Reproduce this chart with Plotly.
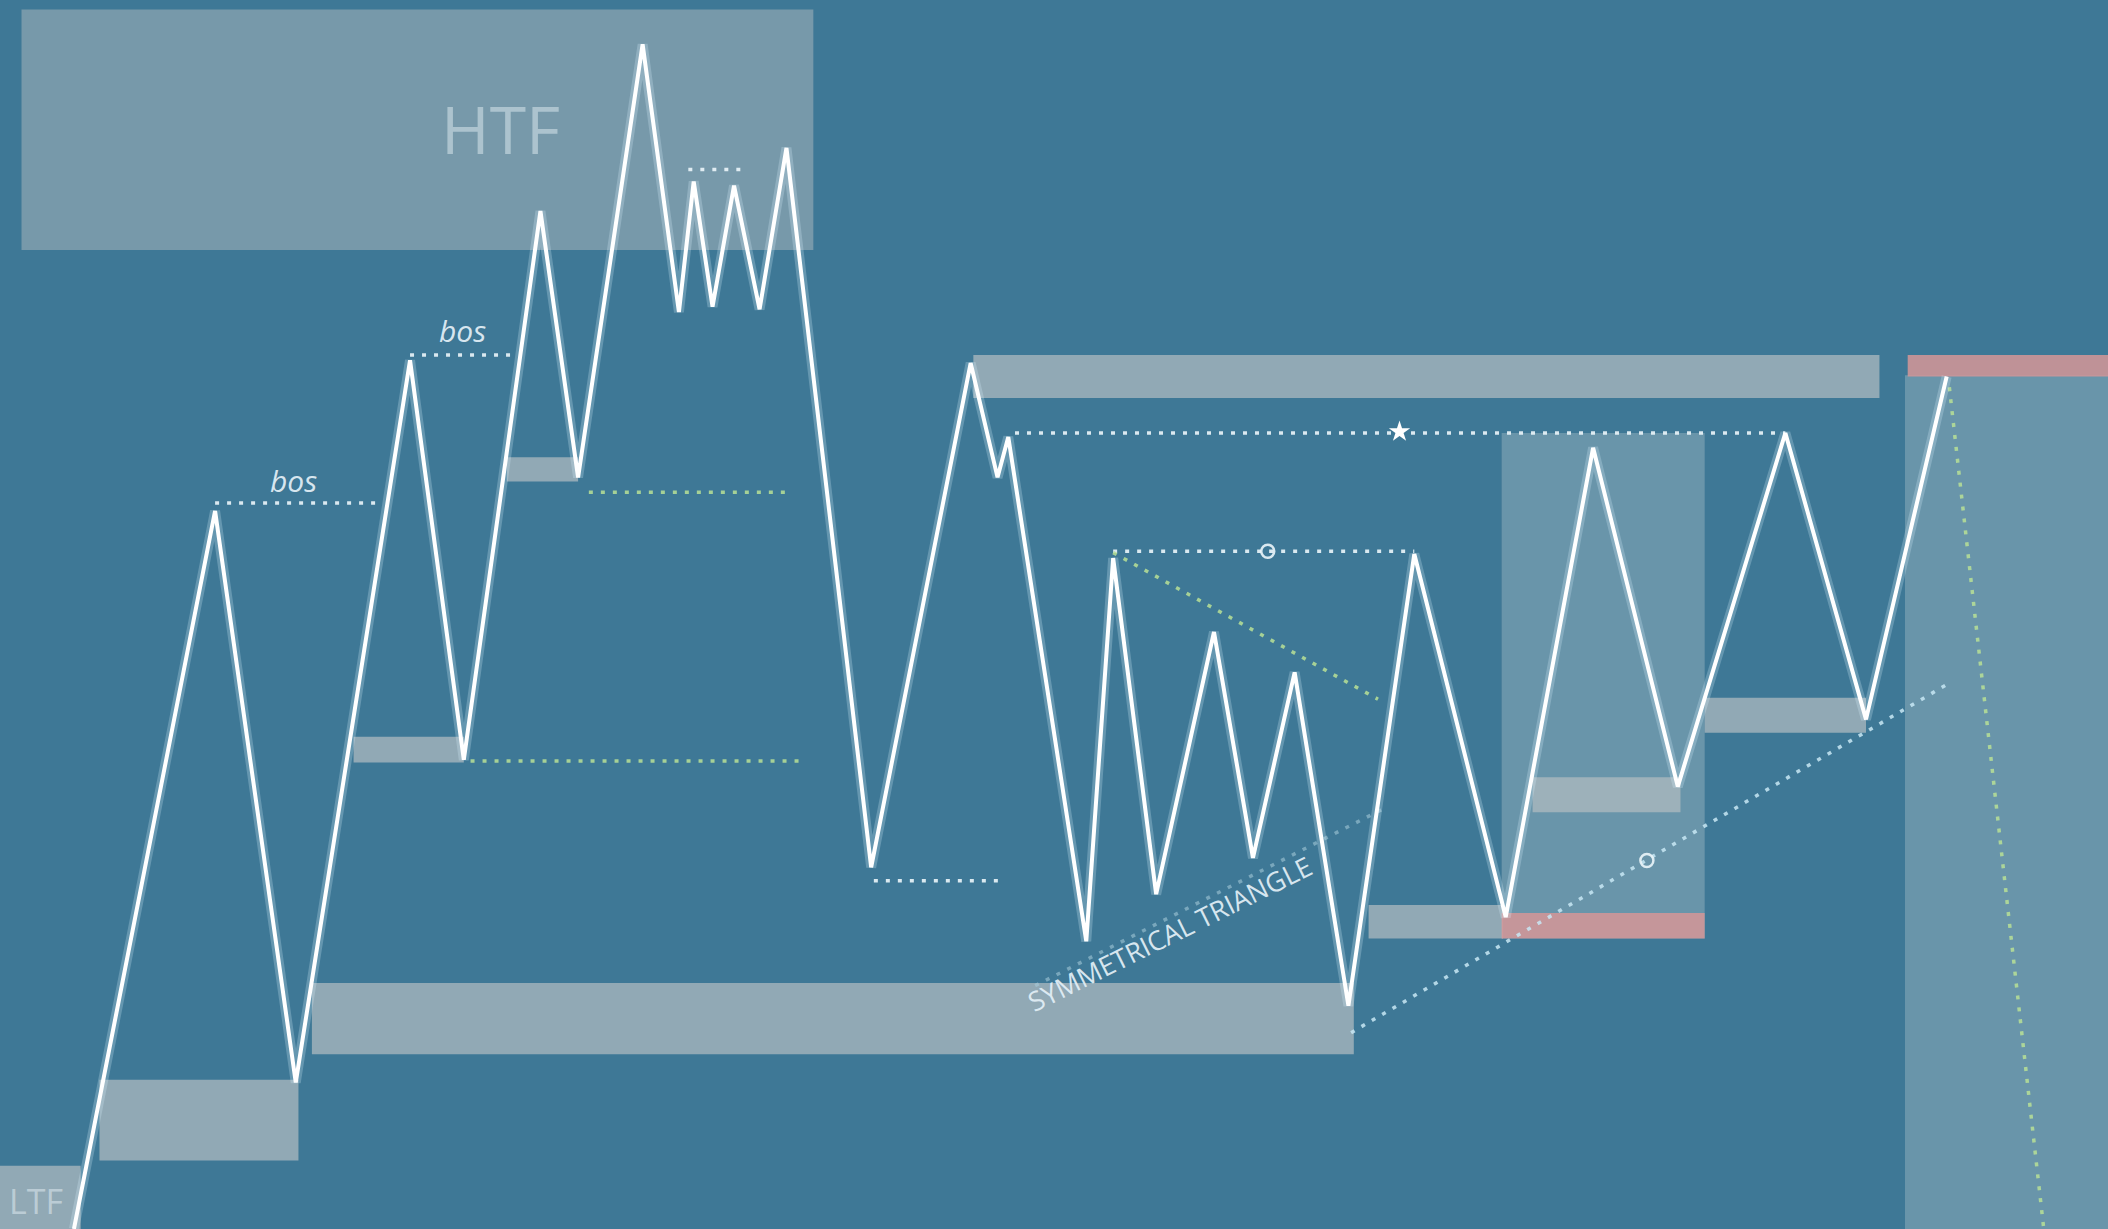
import plotly.graph_objects as go

# ---------------- data (diagram coordinates, y grows downward) ----------------
zig_x = [55, 160, 220, 305, 345, 402, 430, 478, 505, 516, 530, 546, 565, 585, 648,
         722, 742, 750, 808, 828, 860, 903, 932, 963, 1003, 1052, 1120, 1185, 1248,
         1328, 1388, 1448]
zig_y = [914, 380, 805, 268, 565, 157, 355, 33, 232, 135, 228, 138, 230, 110, 645,
         270, 355, 325, 700, 415, 665, 470, 638, 500, 748, 412, 682, 333, 585,
         322, 535, 280]

# zones: x0, x1, y0, y1, kind
zone_x0 = [16, 0, 74, 232, 263, 377, 724, 1117, 1417, 1018, 1140, 1268, 1117, 1419]
zone_x1 = [605, 60, 222, 1007, 345, 430, 1398, 1268, 1568, 1118, 1250, 1388, 1268, 1568]
zone_y0 = [7, 867, 803, 731, 548, 340, 264, 322, 279, 673, 578, 519, 679, 264]
zone_y1 = [186, 914, 863, 784, 567, 358, 296, 698, 914, 698, 604, 545, 698, 280]
zone_kind = ["htf", "grey", "grey", "grey", "grey", "grey", "grey", "light", "light",
             "grey", "grey", "grey", "pink", "pink"]

# dotted guide lines: x pair, y pair, colour kind
guide_x = [[160, 282], [305, 384], [512, 554], [438, 584], [350, 594], [650, 744],
           [755, 1328], [828, 1052], [828, 1025], [770, 1028], [1005, 1450], [1450, 1520]]
guide_y = [[374, 374], [264, 264], [126, 126], [366, 366], [566, 566], [655, 655],
           [322, 322], [410, 410], [411, 520], [733, 602], [768, 508], [288, 912]]
guide_kind = ["white", "white", "white", "green", "green", "white",
              "white", "white", "green", "faint", "blue", "green"]

star_pt = (1041, 321)
circle_x = [943, 1225]
circle_y = [410, 640]

labels = ["HTF", "LTF", "<i>bos</i>", "<i>bos</i>", "SYMMETRICAL TRIANGLE"]
label_x = [372, 27, 218, 344, 870]
label_y = [95, 893, 357, 246, 694]

# ---------------- figure ----------------
BG = "#3e7896"
zone_fill = {
    "htf": "rgba(175,185,190,0.50)",
    "grey": "rgba(178,188,192,0.72)",
    "light": "rgba(170,192,200,0.40)",
    "pink": "rgba(214,150,152,0.85)",
}
guide_col = {
    "white": "rgba(235,245,250,0.9)",
    "green": "rgba(185,225,150,0.85)",
    "faint": "rgba(170,205,220,0.55)",
    "blue": "rgba(200,232,245,0.85)",
}

fig = go.Figure()

shapes = []
for x0, x1, y0, y1, k in zip(zone_x0, zone_x1, zone_y0, zone_y1, zone_kind):
    shapes.append(dict(type="rect", xref="x", yref="y", x0=x0, x1=x1, y0=y0, y1=y1,
                       fillcolor=zone_fill[k], line=dict(width=0), layer="below"))

for gx, gy, k in zip(guide_x, guide_y, guide_kind):
    fig.add_trace(go.Scatter(x=gx, y=gy, mode="lines", hoverinfo="skip",
                             line=dict(color=guide_col[k], width=3.5, dash="4px,8px")))

# glow + main zigzag
fig.add_trace(go.Scatter(x=zig_x, y=zig_y, mode="lines", hoverinfo="skip",
                         line=dict(color="rgba(220,245,255,0.25)", width=10)))
fig.add_trace(go.Scatter(x=zig_x, y=zig_y, mode="lines", hoverinfo="skip",
                         line=dict(color="#ffffff", width=4)))

fig.add_trace(go.Scatter(x=[star_pt[0]], y=[star_pt[1]], mode="markers", hoverinfo="skip",
                         marker=dict(symbol="star", size=16, color="white")))
fig.add_trace(go.Scatter(x=circle_x, y=circle_y, mode="markers", hoverinfo="skip",
                         marker=dict(symbol="circle-open", size=13, color="rgba(235,245,250,0.9)",
                                     line=dict(width=2.5))))

annotations = []
styles = [
    dict(size=66, color="rgba(190,210,218,0.75)", family="Open Sans"),
    dict(size=34, color="rgba(200,215,222,0.8)", family="Open Sans"),
    dict(size=30, color="rgba(225,238,245,0.95)", family="Open Sans"),
    dict(size=30, color="rgba(225,238,245,0.95)", family="Open Sans"),
    dict(size=27, color="rgba(225,238,245,0.95)", family="Open Sans"),
]
angles = [0, 0, 0, 0, -26.4]
for t, x, y, st, a in zip(labels, label_x, label_y, styles, angles):
    annotations.append(dict(text=t, x=x, y=y, xref="x", yref="y", showarrow=False,
                            font=st, textangle=a, xanchor="center", yanchor="middle"))

fig.update_layout(
    width=2108, height=1229,
    margin=dict(l=0, r=0, t=0, b=0),
    paper_bgcolor=BG, plot_bgcolor=BG,
    showlegend=False,
    shapes=shapes, annotations=annotations,
    xaxis=dict(range=[0, 1568], visible=False, fixedrange=True),
    yaxis=dict(range=[914, 0], visible=False, fixedrange=True),
)

fig.write_html("out.html", config={"displayModeBar": False},
               post_script="document.body.style.margin='0';document.body.style.overflow='hidden';document.body.style.background='" + BG + "';")
